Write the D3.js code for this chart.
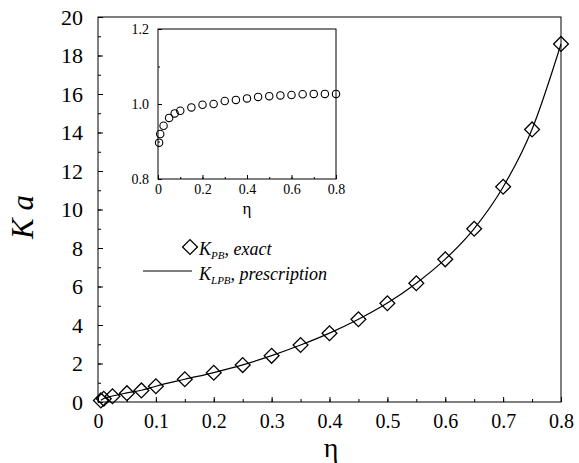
<!DOCTYPE html>
<html>
<head>
<meta charset="utf-8">
<script src="https://cdn.jsdelivr.net/npm/d3@7"></script>
<style>
  body { margin: 0; background: #fff; }
  svg { display: block; }
</style>
</head>
<body>
<div id="canvas"></div>
<script>
var width = 579
var height = 463
var serif = "'Liberation Serif', 'Times New Roman', Times, 'DejaVu Serif', serif"

// packing fraction
var eta = [0.005, 0.01, 0.025, 0.05, 0.075, 0.1, 0.15, 0.2, 0.25, 0.3, 0.35, 0.4,
           0.45, 0.5, 0.55, 0.6, 0.65, 0.7, 0.75, 0.8]
// K_PB a, exact (diamonds)
var kaExact = [0.08, 0.17, 0.30, 0.46, 0.60, 0.82, 1.18, 1.52, 1.92, 2.40, 2.96, 3.57,
               4.30, 5.13, 6.17, 7.41, 9.00, 11.18, 14.16, 18.60]
// K_LPB a, prescription (line)
var kaLPB = [0.09, 0.18, 0.31, 0.47, 0.61, 0.82, 1.18, 1.53, 1.93, 2.41, 2.96, 3.58,
             4.30, 5.14, 6.17, 7.42, 9.01, 11.17, 14.17, 18.60]
// inset: ratio (circles)
var ratio = [0.897, 0.920, 0.942, 0.963, 0.975, 0.982, 0.991, 0.998, 1.000, 1.008, 1.011, 1.015,
             1.019, 1.021, 1.023, 1.024, 1.026, 1.027, 1.027, 1.027]

var xTicks = [0, 0.1, 0.2, 0.3, 0.4, 0.5, 0.6, 0.7, 0.8]
var yTicks = [0, 2, 4, 6, 8, 10, 12, 14, 16, 18, 20]
var insetXTicks = [0, 0.2, 0.4, 0.6, 0.8]
var insetYTicks = [0.8, 1.0, 1.2]

var svg = d3.select("#canvas")
    .append("svg")
    .attr("width", width)
    .attr("height", height)
    .attr("font-family", serif)

// main plot
var x = d3.scaleLinear().domain([0, 0.8]).range([98, 561])
var y = d3.scaleLinear().domain([0, 20]).range([402, 17])

function tickRange(a, b, step) {
    var out = []
    var n = Math.round((b - a) / step)
    for (var i = 0; i <= n; i++) out.push(+(a + i * step).toFixed(4))
    return out
}

function drawAxes(g, xs, ys, xt, yt, xMinor, yMinor, opt) {
    var x0 = xs.range()[0], x1 = xs.range()[1]
    var y0 = ys.range()[0], y1 = ys.range()[1]
    // minor ticks
    g.append("g").attr("transform", `translate(0,${y0})`)
        .call(d3.axisBottom(xs).tickValues(xMinor).tickSizeInner(-opt.minor).tickSizeOuter(0).tickFormat(""))
    g.append("g").attr("transform", `translate(${x0},0)`)
        .call(d3.axisLeft(ys).tickValues(yMinor).tickSizeInner(-opt.minor).tickSizeOuter(0).tickFormat(""))
    // major ticks with labels
    g.append("g").attr("class", "xaxis").attr("transform", `translate(0,${y0})`)
        .call(d3.axisBottom(xs).tickValues(xt).tickSizeInner(-opt.major).tickSizeOuter(0)
            .tickPadding(opt.xPad).tickFormat(opt.xFormat))
    g.append("g").attr("class", "yaxis").attr("transform", `translate(${x0},0)`)
        .call(d3.axisLeft(ys).tickValues(yt).tickSizeInner(-opt.major).tickSizeOuter(0)
            .tickPadding(opt.yPad).tickFormat(opt.yFormat))
    g.selectAll(".domain").remove()
    g.selectAll("g").attr("font-family", serif)
    g.selectAll(".tick line").attr("stroke", "#000").attr("stroke-width", 1)
    g.selectAll(".xaxis text").attr("font-size", opt.xFont).attr("font-family", serif).attr("fill", "#000")
    g.selectAll(".yaxis text").attr("font-size", opt.yFont).attr("font-family", serif).attr("fill", "#000")
    g.append("rect")
        .attr("x", x0).attr("y", y1)
        .attr("width", x1 - x0).attr("height", y0 - y1)
        .attr("fill", "none").attr("stroke", "#000").attr("stroke-width", 1)
}

var main = svg.append("g")
drawAxes(main, x, y, xTicks, yTicks, tickRange(0, 0.8, 0.05), tickRange(0, 20, 1), {
    major: 5, minor: 3, xPad: 12, yPad: 15, xFont: 20, yFont: 22,
    xFormat: function (d) { return d === 0 ? "0" : d3.format(".1f")(d) },
    yFormat: d3.format("d")
})

// prescription line
var line = d3.line()
    .x(function (d, i) { return x(eta[i]) })
    .y(function (d) { return y(d) })
    .curve(d3.curveMonotoneX)

main.append("path")
    .datum(kaLPB)
    .attr("d", line)
    .attr("fill", "none")
    .attr("stroke", "#000")
    .attr("stroke-width", 1.2)

var diamond = d3.symbol().type(d3.symbolSquare).size(110)

main.selectAll(".dia")
    .data(kaExact)
    .enter()
    .append("path")
    .attr("class", "dia")
    .attr("d", diamond)
    .attr("transform", function (d, i) { return `translate(${x(eta[i])},${y(d)}) rotate(45)` })
    .attr("fill", "none")
    .attr("stroke", "#000")
    .attr("stroke-width", 1.3)

// axis titles
svg.append("text")
    .attr("transform", "translate(33,217) rotate(-90)")
    .attr("text-anchor", "middle")
    .attr("font-family", serif)
    .attr("font-size", 31)
    .attr("font-style", "italic")
    .text("K a")

svg.append("text")
    .attr("x", 331)
    .attr("y", 457)
    .attr("text-anchor", "middle")
    .attr("font-family", serif)
    .attr("font-size", 28)
    .text("η")

// legend
var legend = svg.append("g")
legend.append("path")
    .attr("d", diamond)
    .attr("transform", "translate(190,247) rotate(45)")
    .attr("fill", "none")
    .attr("stroke", "#000")
    .attr("stroke-width", 1.3)

var t1 = legend.append("text").attr("x", 199).attr("y", 255)
    .attr("font-family", serif).attr("font-size", 18).attr("font-style", "italic")
t1.append("tspan").text("K")
t1.append("tspan").attr("dy", 4).attr("font-size", 11).text("PB")
t1.append("tspan").attr("dy", -4).text(", exact")

legend.append("line")
    .attr("x1", 143).attr("x2", 192)
    .attr("y1", 271).attr("y2", 271)
    .attr("stroke", "#000").attr("stroke-width", 1)

var t2 = legend.append("text").attr("x", 199).attr("y", 280)
    .attr("font-family", serif).attr("font-size", 18).attr("font-style", "italic")
t2.append("tspan").text("K")
t2.append("tspan").attr("dy", 4).attr("font-size", 11).text("LPB")
t2.append("tspan").attr("dy", -4).text(", prescription")

// inset
var ix = d3.scaleLinear().domain([0, 0.8]).range([158, 336])
var iy = d3.scaleLinear().domain([0.8, 1.2]).range([179, 29])

var inset = svg.append("g")
drawAxes(inset, ix, iy, insetXTicks, insetYTicks, tickRange(0, 0.8, 0.1), tickRange(0.8, 1.2, 0.1), {
    major: 4, minor: 2, xPad: 5, yPad: 9, xFont: 14, yFont: 14,
    xFormat: function (d) { return d === 0 ? "0" : d3.format(".1f")(d) },
    yFormat: d3.format(".1f")
})

inset.selectAll(".circ")
    .data(ratio)
    .enter()
    .append("circle")
    .attr("class", "circ")
    .attr("cx", function (d, i) { return ix(eta[i]) })
    .attr("cy", function (d) { return iy(d) })
    .attr("r", 3.7)
    .attr("fill", "none")
    .attr("stroke", "#000")
    .attr("stroke-width", 1.1)

svg.append("text")
    .attr("x", 247)
    .attr("y", 214)
    .attr("text-anchor", "middle")
    .attr("font-family", serif)
    .attr("font-size", 17)
    .text("η")
</script>
</body>
</html>
